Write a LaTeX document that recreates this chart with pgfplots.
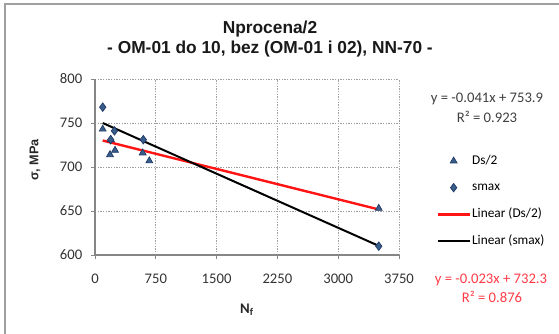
\documentclass[border=0pt]{standalone}
\usepackage{pgfplots}
\pgfplotsset{compat=1.18}
\usepackage{fontspec}
\setmainfont{Carlito}
\newfontfamily\arial{Liberation Sans}
\definecolor{mfill}{RGB}{56,93,138}
\definecolor{medge}{RGB}{31,56,100}
\definecolor{gridc}{RGB}{160,160,160}
\definecolor{axc}{RGB}{134,134,134}
\definecolor{redl}{RGB}{255,20,20}
\definecolor{redt}{RGB}{255,60,70}
\pgfplotsset{
  legmark/.style={legend image code/.code={\draw[mark repeat=2,mark phase=2,##1] plot coordinates {(0cm,0cm)(0.4cm,0cm)(0.82cm,0cm)};}},
  legline/.style={legend image code/.code={\draw[##1] (0cm,0cm) -- (0.82cm,0cm);}},
}
\begin{document}
\begin{tikzpicture}
\begin{scope}[x=0.75pt,y=0.75pt]
\path[use as bounding box] (0,0) rectangle (559,333);
\draw[gray!75, line width=1.5pt] (5,-2) -- (5,329) -- (561,329);
\end{scope}
\begin{axis}[
  at={(71.25pt,58.5pt)}, anchor=south west,
  width=228pt, height=132pt, scale only axis,
  xmin=0, xmax=3750, ymin=600, ymax=800,
  xtick={0,750,1500,2250,3000,3750},
  ytick={600,650,700,750,800},
  axis lines=left, axis line style={-, axc, line width=0.8pt},
  grid=major, major grid style={gridc, line width=0.6pt, dash pattern=on 1pt off 1pt},
  tick align=outside, major tick length=3pt, tick style={axc, line width=0.6pt},
  tick label style={font=\fontsize{11}{13}\selectfont, text=black!80},
  xticklabel style={yshift=-8pt},
  yticklabel style={xshift=-3pt},
  /pgf/number format/assume math mode=true,
  /pgf/number format/1000 sep={},
  scaled x ticks=false,
  xlabel={\bfseries N\textsubscript{f}},
  xlabel style={at={(axis description cs:0.5,-0.31)}, anchor=center, font=\fontsize{11}{13}\selectfont, text=black!85},
  ylabel={\arial\bfseries σ, MPa},
  ylabel style={at={(axis description cs:-0.197,0.54)}, anchor=center, font=\fontsize{9.5}{11}\selectfont, text=black!85},
  legend style={at={(1.125,0.307)}, anchor=west, draw=none, fill=none, inner sep=0pt,
    font=\fontsize{10}{12}\selectfont, row sep=11pt,
    cells={anchor=west}, nodes={inner xsep=1pt, inner ysep=0pt, text height=7pt, text depth=2pt}},
]
\addplot[only marks, mark=triangle*, mark size=3pt,
  mark options={fill=mfill, draw=medge, line width=0.5pt}, legmark]
  coordinates {(95,743) (197,731) (185,714) (247,719) (588,716) (670,707) (3500,653)};
\addlegendentry{Ds/2}
\addplot[only marks, mark=diamond*, mark size=3.2pt,
  mark options={fill=mfill, draw=medge, line width=0.5pt}, legmark]
  coordinates {(95,768) (193,731) (240,741) (596,731) (3500,610)};
\addlegendentry{smax}
\addplot[redl, line width=1.8pt, no marks, legline]
  coordinates {(95,730.1) (3500,651.8)};
\addlegendentry{Linear (Ds/2)}
\addplot[black, line width=1.5pt, no marks, legline]
  coordinates {(95,750.0) (3500,610.4)};
\addlegendentry{Linear (smax)}
\end{axis}
\begin{scope}[x=0.75pt,y=0.75pt]
\node[font=\arial\bfseries\fontsize{13}{15}\selectfont, text=black!90] at (270,304) {Nprocena/2};
\node[font=\arial\bfseries\fontsize{13}{15}\selectfont, text=black!90] at (270,284) {- OM-01 do 10, bez (OM-01 i 02), NN-70 -};
\node[font=\fontsize{11}{13}\selectfont, text=black!75] at (487,234) {y = -0.041x + 753.9};
\node[font=\fontsize{11}{13}\selectfont, text=black!75] at (487,216) {R² = 0.923};
\node[font=\fontsize{11}{13}\selectfont, text=redt] at (491,53) {y = -0.023x + 732.3};
\node[font=\fontsize{11}{13}\selectfont, text=redt] at (492,36) {R² = 0.876};
\end{scope}
\end{tikzpicture}
\end{document}
